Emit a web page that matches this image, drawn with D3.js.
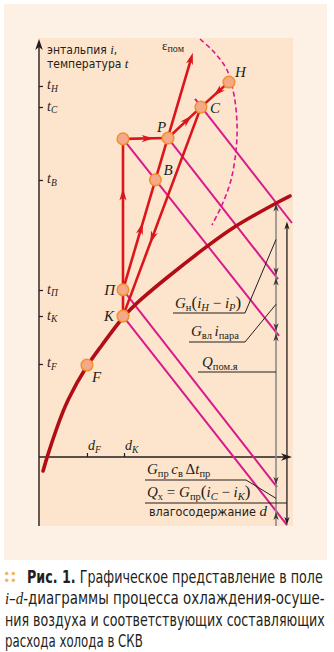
<!DOCTYPE html>
<html><head><meta charset="utf-8">
<script src="https://cdn.jsdelivr.net/npm/d3@7/dist/d3.min.js"></script>
<style>body{margin:0;background:#fff}text{white-space:pre}</style>
</head><body><svg id="c" width="334" height="652"></svg>
<script>
// ---------- data (d in g/kg, i in kJ/kg, schematic) ----------
const pointNames = ["H","C","P","A","B","П","K","F"];
const pointD     = [18.77, 16.0, 12.75, 8.3, 11.5, 8.3, 8.3, 4.74];
const pointI     = [89.7, 83.7, 76.3, 76.1, 66.3, 40.0, 33.7, 22.0];
const pointShown = ["H","C","P","","B","П","K","F"];

const satD = [0.40,0.79,1.78,2.77,4.74,6.03,8.3,9.98,12.45,16.6,19.37,21.84,23.81,24.8];
const satI = [-3.35,0,7.18,13.64,22.0,26.1,33.7,37.56,42.58,50.48,55.26,58.61,61.24,62.44];

const dashD = [15.91,17.29,18.58,19.27,19.57,19.47,18.97,18.08,17.09];
const dashI = [100.0,96.89,92.58,86.6,79.43,73.44,66.27,60.29,55.5];

const epsD = 15.2, epsI = 96.7;

const hNames = ["C","P","A","П","K"];
const hD0 = [15.42,12.75,8.3,8.3,8.3];
const hI0 = [85.65,76.3,76.1,40.0,33.7];
const hD1 = [25.0,23.62,23.72,23.52,24.51];
const hI1 = [55.98,42.58,28.95,-7.18,-16.27];

const procFrom = ["K","A","P","H","П","C"];
const procTo   = ["A","P","C","C","ε","K"];
const procArrows = [[0.72],[0.68],[0.72],[0.55],[0.283,1],[0.65]];

const tLabels = ["H","C","B","П","K","F"];
const tI      = [88.76,83.73,66.27,39.95,33.73,22.25];
const dLabels = ["F","K"];
const dD      = [4.74,8.4];

const dimGrayD = 23.42, dimBlackD = 24.5;

// ---------- setup ----------
const svg = d3.select("#c");
const serif = "'Liberation Serif','Times New Roman',serif";
const narrow = "'Liberation Sans Narrow','DejaVu Sans Condensed','Roboto',sans-serif";
const ink = "#231f20";
const red = "#dc151c", dark = "#b20d16", mag = "#d81b8c";

svg.append("rect").attr("x",4).attr("y",4).attr("width",323).attr("height",556).attr("fill","#fcf1e4");
svg.append("rect").attr("x",38).attr("y",38).attr("width",255).attr("height",488).attr("fill","#fde4cc");

const x = d3.scaleLinear().domain([0,25]).range([39,292]);
const y = d3.scaleLinear().domain([0,100]).range([457,39]);
const yMin = y.invert(526);

const P = {};
pointNames.forEach((n,k)=>P[n]={d:pointD[k], i:pointI[k]});
P["ε"] = {d:epsD, i:epsI};

function arrowHead(g, tx, ty, ang, L, W, color){
  const c=Math.cos(ang), s=Math.sin(ang);
  const pts=[[0,0],[-L,W],[-0.72*L,0],[-L,-W]].map(([a,b])=>[tx+a*c-b*s, ty+a*s+b*c]);
  g.append("path").attr("d","M"+pts.map(p=>p.join(",")).join("L")+"Z").attr("fill",color);
}

function rich(g, px, py, parts, opts={}){
  const t = g.append("text").attr("x",px).attr("y",py).attr("fill",ink)
    .attr("font-family",opts.family||serif).attr("font-size",opts.size||15);
  if(opts.anchor) t.attr("text-anchor",opts.anchor);
  let cur=0;
  parts.forEach(([txt,o])=>{
    o=o||{};
    const sh = o.sub ? (opts.subShift||3) : 0;
    const ts = t.append("tspan").text(txt);
    if(sh-cur!==0) ts.attr("dy",sh-cur);
    cur=sh;
    if(o.i) ts.attr("font-style","italic");
    if(o.s) ts.attr("font-size",o.s); else if(o.sub) ts.attr("font-size",opts.subSize||10.5);
    if(o.f) ts.attr("font-family",o.f);
    if(o.b) ts.attr("font-weight","bold");
  });
  if(opts.fit){
    const w = t.node().getComputedTextLength();
    const k = opts.fit / w;
    t.attr("transform",`translate(${px},0) scale(${k},1) translate(${-px},0)`);
  }
  return t;
}

const g = svg.append("g");

// ---------- axes ----------
const yAxis = d3.axisLeft(y).tickValues(tI).tickSize(-4).tickFormat("");
const ya = g.append("g").attr("transform",`translate(${x(0)},0)`).call(yAxis);
ya.select(".domain").remove();
ya.selectAll("line").attr("stroke",ink).attr("stroke-width",1.2);
const xAxis = d3.axisBottom(x).tickValues(dD).tickSize(-4).tickFormat("");
const xa = g.append("g").attr("transform",`translate(0,${y(0)})`).call(xAxis);
xa.select(".domain").remove();
xa.selectAll("line").attr("stroke",ink).attr("stroke-width",1.2);

g.append("line").attr("x1",x(0)).attr("x2",x(0)).attr("y1",y(yMin)).attr("y2",y(100)+6)
  .attr("stroke",ink).attr("stroke-width",1.4);
arrowHead(g, x(0), y(100), -Math.PI/2, 11, 3.8, ink);
g.append("line").attr("x1",x(0)).attr("x2",x(25)-6).attr("y1",y(0)).attr("y2",y(0))
  .attr("stroke",ink).attr("stroke-width",1.4);
arrowHead(g, x(25), y(0), 0, 11, 3.8, ink);

// tick labels
tLabels.forEach((lab,k)=>{
  rich(g, x(0)+8, y(tI[k])+3.5, [["t",{i:1}],[lab,{i:1,sub:1}]], {size:14, subSize:9.5, subShift:2.5});
});
dLabels.forEach((lab,k)=>{
  rich(g, x(dD[k])+1, y(0)-7, [["d",{i:1}],[lab,{i:1,sub:1}]], {size:14, subSize:9.5, subShift:2.5});
});
rich(g, 47, 54, [["энтальпия "],["i",{i:1,f:serif,s:13}],[","]], {family:narrow,size:12});
rich(g, 47, 68, [["температура "],["t",{i:1,f:serif,s:13}]], {family:narrow,size:12});

// ---------- enthalpy lines ----------
hNames.forEach((n,k)=>{
  g.append("line").attr("x1",x(hD0[k])).attr("y1",y(hI0[k])).attr("x2",x(hD1[k])).attr("y2",y(hI1[k]))
    .attr("stroke",mag).attr("stroke-width",2);
});
function hAt(k,d){ return hI0[k]+(hI1[k]-hI0[k])*(d-hD0[k])/(hD1[k]-hD0[k]); }

// dashed curve
g.append("path").datum(d3.range(dashD.length))
  .attr("d", d3.line().x(k=>x(dashD[k])).y(k=>y(dashI[k])).curve(d3.curveCatmullRom))
  .attr("fill","none").attr("stroke",mag).attr("stroke-width",1.6).attr("stroke-dasharray","5,3");

// saturation curve
g.append("path").datum(d3.range(satD.length))
  .attr("d", d3.line().x(k=>x(satD[k])).y(k=>y(satI[k])).curve(d3.curveBasis))
  .attr("fill","none").attr("stroke",dark).attr("stroke-width",3.6).attr("stroke-linecap","round");

// ---------- process lines ----------
procFrom.forEach((f,k)=>{
  const a=P[f], b=P[procTo[k]];
  const x1=x(a.d), y1=y(a.i), x2=x(b.d), y2=y(b.i);
  const ang=Math.atan2(y2-y1,x2-x1);
  const endsArrow = procArrows[k].includes(1);
  g.append("line").attr("x1",x1).attr("y1",y1)
    .attr("x2", endsArrow? x2-6*Math.cos(ang):x2).attr("y2", endsArrow? y2-6*Math.sin(ang):y2)
    .attr("stroke",red).attr("stroke-width",2.6);
  procArrows[k].forEach(t=>arrowHead(g, x1+(x2-x1)*t, y1+(y2-y1)*t, ang, 12, 3.6, red));
});
rich(g, 162, 50, [["ε"],["пом",{sub:1}]], {size:13, subSize:10, subShift:2});

// ---------- points ----------
const labOff = {H:[6,-5,"start"],C:[9,6,"start"],P:[-11,-6,"start"],B:[8,-5,"start"],
                "П":[-8,5,"end"],K:[-9,5,"end"],F:[5,17,"start"]};
pointNames.forEach((n,k)=>{
  g.append("circle").attr("cx",x(pointD[k])).attr("cy",y(pointI[k])).attr("r",5.8)
    .attr("fill","#f3a98a").attr("stroke","#f29129").attr("stroke-width",1.5);
  const lab = pointShown[k];
  if(lab){
    const o=labOff[lab];
    rich(g, x(pointD[k])+o[0], y(pointI[k])+o[1], [[lab,{i:1}]], {size:15, anchor:o[2]});
  }
});

// ---------- dimension lines ----------
const gx = x(dimGrayD), bx = x(dimBlackD);
const yC = y(hAt(0,dimGrayD)), yP = y(hAt(1,dimGrayD)), yA = y(hAt(2,dimGrayD)),
      yPi = y(hAt(3,dimGrayD)), yK = y(hAt(4,dimGrayD));
const gray="#8b8b8b", arr="#3a3a3a";
g.append("line").attr("x1",gx).attr("x2",gx).attr("y1",yC+3).attr("y2",y(yMin)).attr("stroke",gray).attr("stroke-width",1.6);
const U=-Math.PI/2, D=Math.PI/2;
[[yC,U],[yP,D],[yP,U],[yA,D],[yA,U],[yPi,D],[yK,U]].forEach(([yy,a])=>arrowHead(g,gx,yy+(a===U?1:-1),a,8,2.6,arr));
const byC = y(hAt(0,dimBlackD))+5, byK = y(hAt(4,dimBlackD));
g.append("line").attr("x1",bx).attr("x2",bx).attr("y1",byC+3).attr("y2",byK-3).attr("stroke",ink).attr("stroke-width",1.3);
arrowHead(g,bx,byC,U,8,2.6,ink);
arrowHead(g,bx,byK,D,8,2.6,ink);

// leaders
const lead = (pts)=>g.append("path").attr("d","M"+pts.map(p=>p.join(",")).join("L"))
  .attr("fill","none").attr("stroke",ink).attr("stroke-width",1);
lead([[173,313],[245,313],[gx,(yC+yP)/2]]);
lead([[189,342],[245,342],[gx,(yP+yA)/2]]);
lead([[198,372],[gx,372]]);
lead([[145,480],[246,480],[gx,(yPi+yK)/2]]);
lead([[145,503],[bx,503]]);

rich(g,175,308,[["G",{i:1}],["н",{sub:1}],["(",{s:17}],["i",{i:1}],["H",{i:1,sub:1}],[" − "],["i",{i:1}],["P",{i:1,sub:1}],[")",{s:17}]]);
rich(g,191,336,[["G",{i:1}],["вл ",{sub:1}],["i",{i:1}],["пара",{sub:1}]]);
rich(g,202,367,[["Q",{i:1}],["пом.я",{sub:1}]]);
rich(g,147,474,[["G",{i:1}],["пр ",{sub:1}],["c",{i:1}],["в ",{sub:1}],["Δ"],["t",{i:1}],["пр",{sub:1}]]);
rich(g,147,497,[["Q",{i:1}],["х",{sub:1}],[" = "],["G",{i:1}],["пр",{sub:1}],["(",{s:17}],["i",{i:1}],["C",{i:1,sub:1}],[" − "],["i",{i:1}],["K",{i:1,sub:1}],[")",{s:17}]]);
rich(g,267,516,[["влагосодержание "],["d",{i:1,f:serif,s:15}]],{family:narrow,size:12.5,anchor:"end"});

// ---------- caption ----------
[[6.7,573.5],[13.3,573.5],[6.7,580.3],[13.3,580.3]].forEach(([cx,cy])=>
  svg.append("circle").attr("cx",cx).attr("cy",cy).attr("r",1.8).attr("fill","#f4b46a"));
const cap = svg.append("g");
rich(cap,27,583,[["Рис. 1.",{b:1}],[" Графическое представление в поле"]],{family:narrow,size:17,fit:296});
rich(cap,5,604.5,[["i",{i:1,f:serif}],["–"],["d",{i:1,f:serif}],["-диаграммы процесса охлаждения-осуше-"]],{family:narrow,size:17,fit:320});
rich(cap,5,626,[["ния воздуха и соответствующих составляющих"]],{family:narrow,size:17,fit:320});
rich(cap,5,647,[["расхода холода в СКВ"]],{family:narrow,size:17,fit:138});
</script></body></html>
